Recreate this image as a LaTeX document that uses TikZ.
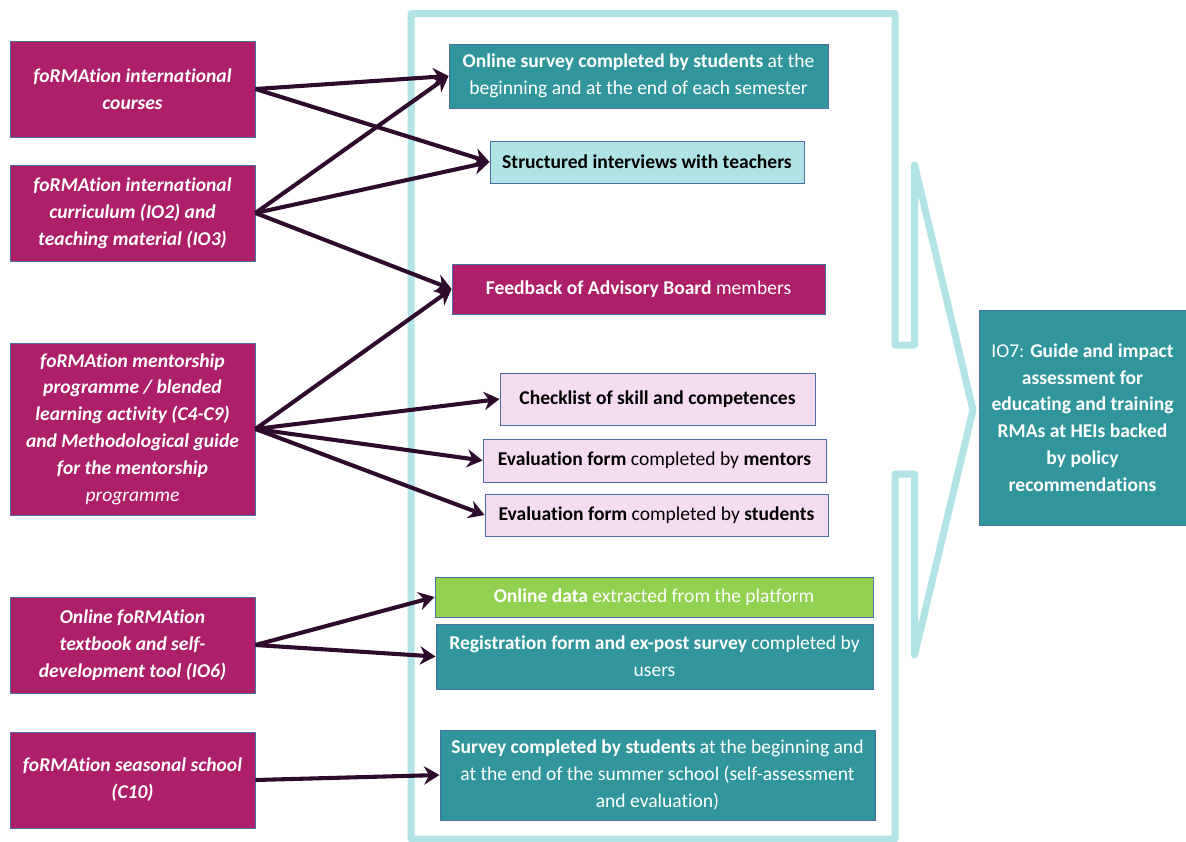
\documentclass[tikz,border=0pt]{standalone}
\usepackage{fontspec}
\setmainfont{Carlito}[Ligatures={NoCommon,NoRequired,NoContextual}, Contextuals={NoAlternate}]
\usetikzlibrary{arrows.meta}
\definecolor{magentab}{HTML}{AD1F68}
\definecolor{tealb}{HTML}{31969B}
\definecolor{lightb}{HTML}{B0E3E6}
\definecolor{pinkb}{HTML}{F6DCF0}
\definecolor{greenb}{HTML}{92D050}
\definecolor{arrowc}{HTML}{2E0B2C}
\definecolor{borderc}{HTML}{4A6FA0}
\definecolor{framec}{HTML}{B1E3E7}
\begin{document}
\begin{tikzpicture}[x=0.025cm, y=-0.025cm,
  box/.style={draw=borderc, line width=0.6pt, align=center, inner sep=0pt,
    font=\fontsize{13.9}{19.1}\selectfont},
  src/.style={box, fill=magentab, text=white, minimum width=6.125cm,
    font=\fontsize{13.9}{19.1}\selectfont\bfseries\itshape},
  arr/.style={draw=arrowc, line width=2.9pt, -{Stealth[length=11pt, width=13pt]}}]
 \useasboundingbox (0,0) rectangle (1186,842);
 \draw [framec, line width=0.175cm, line join=round]
   (411,13.5) -- (895,13.5) -- (895,345) -- (914.5,345) -- (914.5,165)
   -- (973,410) -- (914.5,655) -- (914.5,474) -- (895,474) -- (895,839)
   -- (411,839) -- cycle;

 \node (courses) [src, minimum height=2.4cm] at (132.5,89)
   {foRMAtion international\\courses};
 \node (curric) [src, minimum height=2.4cm] at (132.5,213)
   {foRMAtion international\\curriculum (IO2) and\\teaching material (IO3)};
 \node (mentor) [src, minimum height=4.3cm] at (132.5,429)
   {foRMAtion mentorship\\programme / blended\\learning activity (C4-C9)\\and Methodological guide\\for the mentorship\\{\mdseries programme}};
 \node (textbook) [src, minimum height=2.4cm] at (132.5,645)
   {Online foRMAtion\\textbook and self-\\development tool (IO6)};
 \node (school) [src, minimum height=2.4cm] at (132.5,780)
   {foRMAtion seasonal school\\(C10)};

 \begin{scope}[every node/.style={box}]
   \node (survey) [fill=tealb, text=white, minimum width=9.475cm, minimum height=1.6cm] at (638.5,76)
     {\textbf{Online survey completed by students} at the\\beginning and at the end of each semester};
   \node (interv) [fill=lightb, minimum width=7.85cm, minimum height=1.05cm] at (647,162)
     {\textbf{Structured interviews with teachers}};
   \node (board) [fill=magentab, text=white, minimum width=9.325cm, minimum height=1.25cm] at (638.5,289)
     {\textbf{Feedback of Advisory Board} members};
   \node (check) [fill=pinkb, minimum width=7.875cm, minimum height=1.3cm] at (657.5,399)
     {\textbf{Checklist of skill and competences}};
   \node (evmen) [fill=pinkb, minimum width=8.575cm, minimum height=1.075cm] at (654.5,460.5)
     {\textbf{Evaluation form} completed by \textbf{mentors}};
   \node (evstu) [fill=pinkb, minimum width=8.575cm, minimum height=1.05cm] at (656.5,515)
     {\textbf{Evaluation form} completed by \textbf{students}};
   \node (data) [fill=greenb, text=white, minimum width=10.95cm, minimum height=1cm] at (654,597)
     {\textbf{Online data} extracted from the platform};
   \node (regist) [fill=tealb, text=white, minimum width=10.925cm, minimum height=1.625cm] at (654.5,656.5)
     {\textbf{Registration form and ex-post survey} completed by\\users};
   \node (ssurvey) [fill=tealb, text=white, minimum width=10.875cm, minimum height=2.25cm] at (657.5,775)
     {\textbf{Survey completed by students} at the beginning and\\at the end of the summer school (self-assessment\\and evaluation)};
   \node (guide) [fill=tealb, text=white, minimum width=5.175cm, minimum height=5.375cm] at (1082.5,417.5)
     {IO7: \textbf{Guide and impact}\\\textbf{assessment for}\\\textbf{educating and training}\\\textbf{RMAs at HEIs backed}\\\textbf{by policy}\\\textbf{recommendations}};
 \end{scope}

 \draw [arr] (courses.east) -- (survey.west);
 \draw [arr] (courses.east) -- (interv.west);
 \draw [arr] (curric.east) -- (survey.west);
 \draw [arr] (curric.east) -- (interv.west);
 \draw [arr] (curric.east) -- (board.west);
 \draw [arr] (mentor.east) -- (board.west);
 \draw [arr] (mentor.east) -- (check.west);
 \draw [arr] (mentor.east) -- (evmen.west);
 \draw [arr] (mentor.east) -- (evstu.west);
 \draw [arr] (textbook.east) -- (data.west);
 \draw [arr] (textbook.east) -- (regist.west);
 \draw [arr] (school.east) -- (ssurvey.west);
\end{tikzpicture}
\end{document}
